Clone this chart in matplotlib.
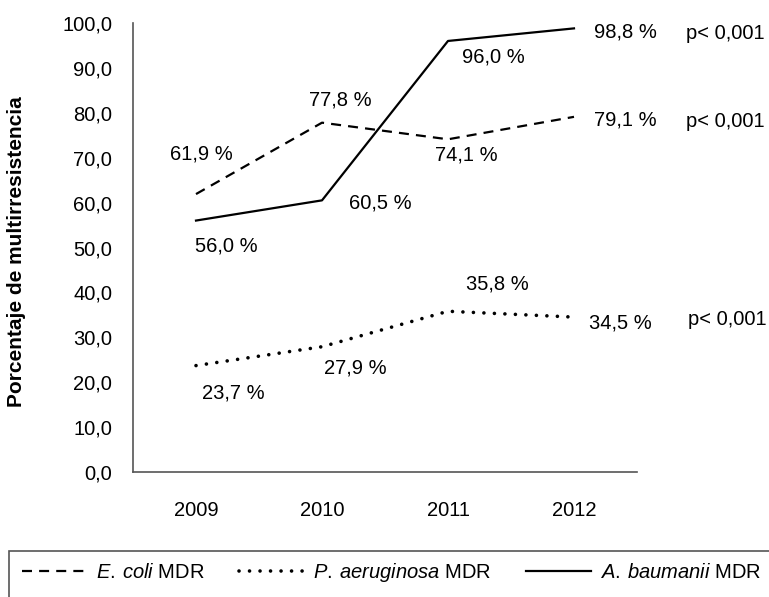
import matplotlib
matplotlib.use("Agg")
import matplotlib.pyplot as plt
from matplotlib.patches import Rectangle

plt.rcParams['font.family'] = ['Liberation Sans', 'DejaVu Sans']
plt.rcParams['mathtext.fontset'] = 'custom'
plt.rcParams['mathtext.rm'] = 'Liberation Sans'
plt.rcParams['mathtext.it'] = 'Liberation Sans:italic'

years = ['2009', '2010', '2011', '2012']
ecoli = [61.9, 77.8, 74.1, 79.1]
paeru = [23.7, 27.9, 35.8, 34.5]
abaum = [56.0, 60.5, 96.0, 98.8]
yticks = [0, 10, 20, 30, 40, 50, 60, 70, 80, 90, 100]
pvals = ['p< 0,001', 'p< 0,001', 'p< 0,001']

FS = 14.5
fig = plt.figure(figsize=(7.69, 5.97), dpi=100)
ax = fig.add_axes([133/769, 1-472/597, (637-133)/769, (472-23)/597])

x = list(range(len(years)))
l1, = ax.plot(x, ecoli, color='black', lw=1.6, linestyle=(0, (4.5, 3.2)), dash_capstyle='butt')
l2, = ax.plot(x, paeru, color='black', lw=2.6, linestyle=(0, (0.01, 2.9)), dash_capstyle='round')
l3, = ax.plot(x, abaum, color='black', lw=1.6)

ax.set_xlim(-0.5, 3.5)
ax.set_ylim(0, 100)
ax.set_xticks(x)
ax.set_xticklabels(years, fontsize=FS)
ax.set_yticks(yticks)
ax.set_yticklabels([f"{v:.1f}".replace('.', ',') for v in yticks], fontsize=FS)
ax.tick_params(length=0)
ax.tick_params(axis='y', pad=15)
ax.tick_params(axis='x', pad=21)
for s in ['top', 'right']:
    ax.spines[s].set_visible(False)
for s in ['left', 'bottom']:
    ax.spines[s].set_color('#555555')
    ax.spines[s].set_linewidth(1.2)
ax.set_ylabel('Porcentaje de multirresistencia', fontsize=15, fontweight='bold')
ax.yaxis.set_label_coords(-0.212, 0.49)

def fmt(v):
    return f"{v:.1f} %".replace('.', ',')

# label offsets in pixels (dx, dy) relative to data point (dy up-positive)
offs_e = [(5, 40), (18, 23), (18, -16), (51, -3)]
offs_p = [(37, -27), (33, -21), (49, 27), (46, -6)]
offs_a = [(30, -25), (58, -3), (45, -16), (51, -4)]
for vals, offs in [(ecoli, offs_e), (paeru, offs_p), (abaum, offs_a)]:
    for i, (v, o) in enumerate(zip(vals, offs)):
        ax.annotate(fmt(v), xy=(i, v), xytext=(o[0]*0.72, o[1]*0.72), textcoords='offset points',
                    ha='center', va='center', fontsize=FS, annotation_clip=False)

for v, p, dx, dy in [(abaum[-1], pvals[0], 151, -5), (ecoli[-1], pvals[1], 151, -5), (paeru[-1], pvals[2], 153, -2)]:
    ax.annotate(p, xy=(3, v), xytext=(dx*0.72, dy*0.72), textcoords='offset points',
                ha='center', va='center', fontsize=FS, annotation_clip=False)

# legend frame (extends past figure edge like the reference)
fig.patches.append(Rectangle((9/769, -20/597), 800/769, (20+46)/597, transform=fig.transFigure,
                             fill=False, edgecolor='#555555', linewidth=1.2))

labels = [r'$\mathit{E.\:coli}$ MDR', r'$\mathit{P.\:aeruginosa}$ MDR',
          r'$\mathit{A.\:baumanii}$ MDR']
leg = fig.legend([l1, l2, l3], labels, loc='center left',
                 bbox_to_anchor=(22/769, 1-573/597),
                 ncol=3, fontsize=FS, frameon=False, handlelength=3.2,
                 handletextpad=0.45, columnspacing=1.75, borderaxespad=0, borderpad=0)

fig.savefig('out.png', dpi=100)
